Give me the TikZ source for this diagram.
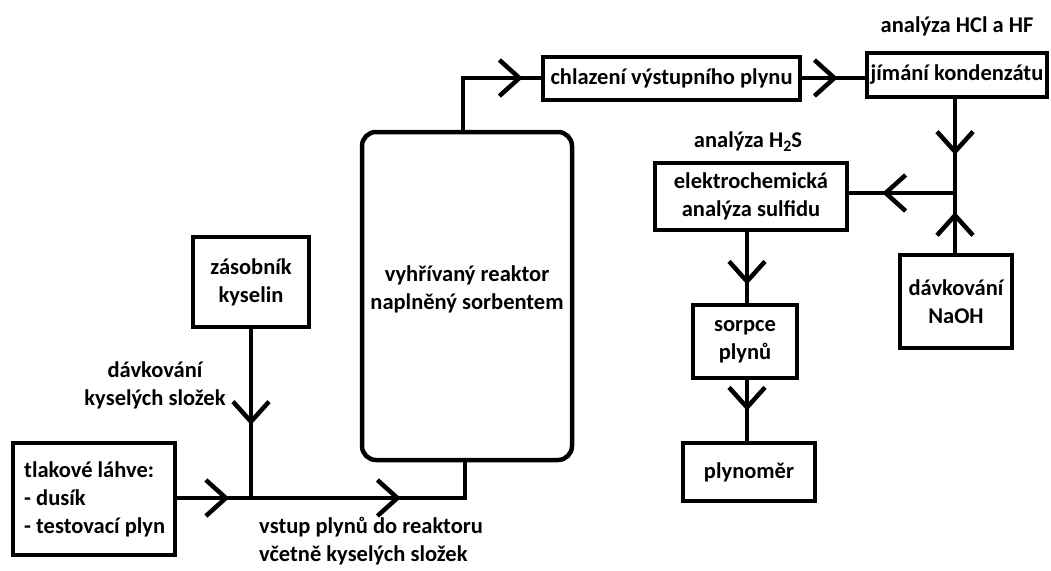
\documentclass[tikz,border=0pt]{standalone}
\usepackage{fontspec}
\setmainfont{Carlito}
\usetikzlibrary{arrows.meta,decorations.markings,calc}
\tikzset{
  box/.style={draw, line width=4.5pt, inner sep=0pt, font=\bfseries\fontsize{22.5}{28}\selectfont, align=center},
  lbl/.style={inner sep=0pt, font=\bfseries\fontsize{22.5}{28}\selectfont, align=center},
  flow/.style={line width=4.5pt},
  chev/.style={postaction={decorate, decoration={markings, mark=at position #1 with {\arrow{Straight Barb[length=20pt,width=36pt,line width=4.5pt]}}}}}
}
\begin{document}
\begin{tikzpicture}[x=1pt,y=-1pt]
\useasboundingbox (0,0) rectangle (1051,570);
% boxes
\node[box, minimum width=162pt, minimum height=112pt, align=left] (tlak) at (94,499) {};
\node[lbl, align=left, anchor=west] (tlaktxt) at (24,499) {tlakové láhve:\\- dusík\\- testovací plyn};
\node[box, minimum width=116pt, minimum height=90pt] (zasob) at (251,282) {zásobník\\kyselin};
\node[box, minimum width=210pt, minimum height=328pt, rounded corners=14pt] (reak) at (467,296) {};
\node[lbl] (reaktxt) at (467,289) {vyhřívaný reaktor\\naplněný sorbentem};
\node[box, minimum width=257pt, minimum height=43pt] (chlaz) at (671.5,78.5) {chlazení výstupního plynu};
\node[box, minimum width=180pt, minimum height=44pt] (jim) at (957,75) {jímání kondenzátu};
\node[box, minimum width=192pt, minimum height=67pt] (elek) at (751,196.5) {elektrochemická\\analýza sulfidu};
\node[box, minimum width=112pt, minimum height=93pt] (naoh) at (956,301.5) {dávkování\\NaOH};
\node[box, minimum width=104pt, minimum height=73pt] (sorp) at (745,341.5) {sorpce\\plynů};
\node[box, minimum width=132pt, minimum height=58pt] (plyn) at (749,472) {plynoměr};
% labels
\node[lbl] (ldav) at (155,385) {dávkování\\kyselých složek};
\node[lbl, align=left, anchor=north west] (lvst) at (259,517) {vstup plynů do reaktoru\\včetně kyselých složek};
\node[lbl] (lhcl) at (957,26) {analýza HCl a HF};
\node[lbl] (lh2s) at (748,142) {analýza H\raisebox{-0.35ex}{\fontsize{16}{16}\selectfont 2}S};
% junctions
\coordinate (j1) at (251,498);
\coordinate (rin) at (465,498);
\coordinate (rtop) at (463,78);
\coordinate (j2) at (955,193);
% connectors
\draw[flow, chev=52pt] (tlak.east |- j1) -- (j1);
\draw[flow, chev=-100pt] (j1) -- (rin) -- (rin |- reak.south);
\draw[flow, chev=-73pt] (zasob.south) -- (j1);
\draw[flow, chev=-18pt] (rtop |- reak.north) -- (rtop) -- (chlaz.west |- rtop);
\draw[flow, chev=-27pt] (chlaz.east |- rtop) -- (jim.west |- rtop);
\draw[flow, chev=-38pt] (j2 |- jim.south) -- (j2);
\draw[flow, chev=-19pt] (j2 |- naoh.north) -- (j2);
\draw[flow, chev=-33pt] (j2) -- (elek.east |- j2);
\draw[flow, chev=-18pt] (elek.south -| sorp.north) ++(2,0) coordinate (es) (es) -- (es |- sorp.north);
\draw[flow, chev=-30pt] (sorp.south -| es) -- (es |- plyn.north);
\end{tikzpicture}
\end{document}
